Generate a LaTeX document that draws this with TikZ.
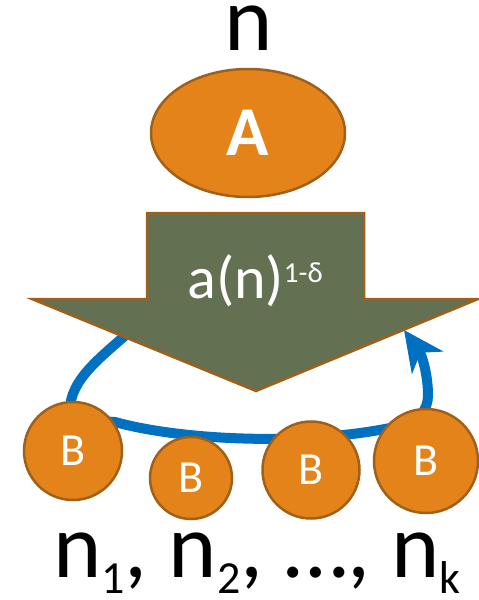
\documentclass[tikz,border=0pt]{standalone}
\usepackage{fontspec}
\setmainfont{Carlito}
\usetikzlibrary{arrows.meta,shapes.geometric}
\definecolor{orangefill}{HTML}{E3831A}
\definecolor{brownline}{HTML}{A0601A}
\definecolor{olivefill}{HTML}{637052}
\definecolor{loopblue}{HTML}{0070C0}
\tikzset{
  ball/.style={circle, fill=orangefill, draw=brownline, line width=2.5pt, inner sep=0pt, text=white, font=\fontsize{46}{46}\selectfont},
  bigtext/.style={font=\fontsize{92}{92}\selectfont, inner sep=0pt, anchor=base},
}
\begin{document}
\begin{tikzpicture}[x=1pt,y=-1pt]
\useasboundingbox (0,0) rectangle (479,600);
% loop
\coordinate (ls) at (128,333);
\coordinate (le) at (404,330);
\draw[loopblue, line width=10pt, -{Stealth[length=40pt,width=38pt,inset=12pt]}]
  (ls) .. controls (100,358) and (70,380) .. (70,410)
  .. controls (70,425) and (90,420) .. (115,422)
  .. controls (180,440) and (300,446) .. (390,428)
  .. controls (420,422) and (428,410) .. (428,395)
  .. controls (428,375) and (422,355) .. (le);
% big arrow
\draw[fill=olivefill, draw=brownline, line width=2.5pt, line join=miter]
  (147,213) -- (364,213) -- (364,299) -- (478,299) -- (256,391) -- (32,299) -- (147,299) -- cycle;
\node[inner sep=0pt, anchor=base, text=white, font=\fontsize{60}{60}\selectfont] (lab) at (255,298)
  {a(n)\raisebox{16pt}{\fontsize{29}{29}\selectfont 1-δ}};
% top
\node[bigtext] (n) at (249,50) {n};
\node[ellipse, fill=orangefill, draw=brownline, line width=2.5pt, minimum width=194pt, minimum height=128pt, inner sep=0pt,
  text=white, font=\fontsize{70}{70}\selectfont\bfseries] (A) at (248,133) {A};
% balls
\node[ball, minimum size=98pt] (b1) at (73,451) {B};
\node[ball, minimum size=82pt] (b2) at (191,478) {B};
\node[ball, minimum size=97pt] (b3) at (311,470) {B};
\node[ball, minimum size=104pt] (b4) at (426,461) {B};
% bottom text
\node[bigtext] (ns) at (257,577)
  {n\raisebox{-16pt}{\fontsize{46}{46}\selectfont 1}, n\raisebox{-16pt}{\fontsize{46}{46}\selectfont 2}, …, n\raisebox{-16pt}{\fontsize{46}{46}\selectfont k}};
\end{tikzpicture}
\end{document}
